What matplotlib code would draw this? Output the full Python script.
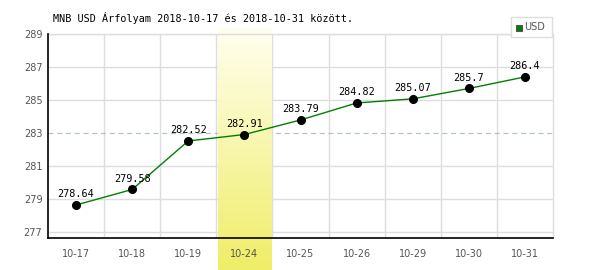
import numpy as np
import matplotlib
matplotlib.use("Agg")
import matplotlib.pyplot as plt
from matplotlib.patches import Rectangle

categories = ["10-17", "10-18", "10-19", "10-24", "10-25", "10-26", "10-29", "10-30", "10-31"]
values = [278.64, 279.58, 282.52, 282.91, 283.79, 284.82, 285.07, 285.7, 286.4]
value_labels = ["278.64", "279.58", "282.52", "282.91", "283.79", "284.82", "285.07", "285.7", "286.4"]
yticks = [277, 279, 281, 283, 285, 287, 289]
highlight = "10-24"
avg_line = 283
title = "MNB USD Árfolyam 2018-10-17 és 2018-10-31 között."
series_name = "USD"

W, H = 600, 270
fig = plt.figure(figsize=(6, 2.7), dpi=100)
fig.patch.set_facecolor("white")

L, R, T, B = 48, 553, 34, 238
ax = fig.add_axes([L / W, 1 - B / H, (R - L) / W, (B - T) / H])
ax.set_facecolor("white")
n = len(categories)
x = np.arange(n)
ax.set_xlim(-0.5, n - 0.5)
ax.set_ylim(276.64, 289)

grid_c = "#dddddd"
for b in np.arange(0.5, n - 0.5, 1.0):
    ax.axvline(b, color=grid_c, lw=1, zorder=0.5)
for yv in yticks:
    if yv == avg_line:
        continue
    ax.axhline(yv, color=grid_c, lw=1, zorder=0.5)
ax.axhline(avg_line, color="#b0c8b0", lw=0.9, ls=(0, (4, 3)), zorder=0.6)

# highlight band with gradient
hi = categories.index(highlight)
px_per_x = (R - L) / n
px_per_y = (B - T) / (289 - 276.64)
x0 = hi - 0.5 + 2 / px_per_x
x1 = hi + 0.5 - 1 / px_per_x
y_top = 289 + 6 / px_per_y
y_bot = 276.64 - (H - B) / px_per_y
t = np.linspace(0, 1, 256)[:, None]
top_c = np.array([1.0, 1.0, 0.94])
bot_c = np.array([0.94, 0.93, 0.40])
grad = top_c[None, None, :] * (1 - t[..., None]) + bot_c[None, None, :] * t[..., None]
grad = np.repeat(grad, 2, axis=1)
im = ax.imshow(grad, extent=[x0, x1, y_bot, y_top], aspect="auto", origin="upper",
               zorder=1, interpolation="bilinear")
im.set_clip_on(False)

ax.plot(x, values, color="#008000", lw=1, zorder=3)
ax.plot(x, values, "o", color="black", ms=5.5, zorder=4)
for xi, v, lab in zip(x, values, value_labels):
    ax.annotate(lab, (xi, v), xytext=(0, 4), textcoords="offset points", ha="center",
                va="bottom", fontsize=7.3, family="DejaVu Sans Mono", color="black", zorder=5)

ax.set_xticks(x)
ax.set_xticklabels(categories)
ax.set_yticks(yticks)
ax.tick_params(axis="both", length=0, labelsize=7, labelcolor="#555555")
ax.tick_params(axis="x", pad=8)
ax.tick_params(axis="y", pad=4)
for s in ["left", "bottom"]:
    ax.spines[s].set_color("black")
    ax.spines[s].set_linewidth(1.2)
    ax.spines[s].set_zorder(6)
for s in ["top", "right"]:
    ax.spines[s].set_color(grid_c)
    ax.spines[s].set_linewidth(1)

fig.text(53 / W, 1 - 18 / H, title, fontsize=7.3, family="DejaVu Sans Mono",
         color="black", va="center", ha="left")

# legend box
fig.patches.append(Rectangle((511 / W, 1 - 37 / H), 41 / W, 20 / H, transform=fig.transFigure,
                             facecolor="white", edgecolor=grid_c, lw=1, zorder=10))
fig.patches.append(Rectangle((516 / W, 1 - 31 / H), 6 / W, 6 / H, transform=fig.transFigure,
                             facecolor="#008000", edgecolor="#555555", lw=0.8, zorder=11))
fig.text(524 / W, 1 - 27.5 / H, series_name, fontsize=7, color="#555555", va="center",
         ha="left", zorder=12)

fig.savefig("out.png", dpi=100)
